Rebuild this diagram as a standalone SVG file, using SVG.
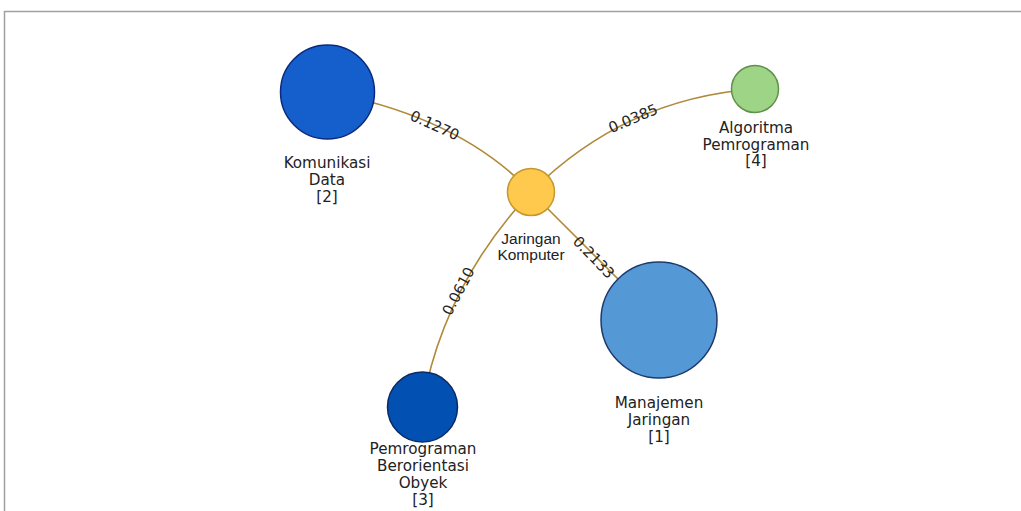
<svg xmlns="http://www.w3.org/2000/svg" width="1021" height="511" viewBox="0 0 1021 511">
<style>
.frame{fill:none;stroke:#a0a0a0;stroke-width:1.5}
.edge{fill:none;stroke:#b0893a;stroke-width:1.6}
.elab{font-family:"DejaVu Sans",Verdana,sans-serif;font-size:14.8px;fill:#222;text-anchor:middle;dominant-baseline:central}
.nlab{font-family:"DejaVu Sans",Verdana,sans-serif;font-size:15.2px;fill:#222;text-anchor:middle}
.slab{font-family:"Liberation Sans",Arial,sans-serif;font-size:15.5px;fill:#222;text-anchor:middle}
</style>
<rect width="1021" height="511" fill="#ffffff"/>
<path class="frame" d="M4.5,511 V11.5 H1021"/>
<g id="connectors">
<path class="edge" d="M327,92 Q460,117 531,192"/>
<path class="edge" d="M531,192 Q624.5,98.5 755,89"/>
<path class="edge" d="M531,192 Q443,286 422,407"/>
<path class="edge" d="M531,192 L659,320"/>
<text class="elab" transform="translate(435,125) rotate(24)">0.1270</text>
<text class="elab" transform="translate(633,118) rotate(-23)">0.0385</text>
<text class="elab" transform="translate(458,291) rotate(-62)">0.0610</text>
<text class="elab" transform="translate(594,257) rotate(46)">0.2133</text>
</g>
<g id="node-komunikasi">
<circle cx="327.5" cy="92" r="47" fill="#145fcc" stroke="#0b2a7c" stroke-width="1.5"/>
<text class="nlab" x="327" y="168">Komunikasi</text>
<text class="nlab" x="327" y="185">Data</text>
<text class="nlab" x="327" y="202">[2]</text>
</g>
<g id="node-jaringan-komputer">
<circle cx="531" cy="192" r="23.5" fill="#ffc94d" stroke="#c4982e" stroke-width="1.5"/>
<text class="slab" x="531" y="244">Jaringan</text>
<text class="slab" x="531" y="260">Komputer</text>
</g>
<g id="node-algoritma">
<circle cx="755" cy="89" r="23.5" fill="#9dd486" stroke="#5f9149" stroke-width="1.5"/>
<text class="nlab" x="756" y="133">Algoritma</text>
<text class="nlab" x="756" y="150">Pemrograman</text>
<text class="nlab" x="756" y="166">[4]</text>
</g>
<g id="node-manajemen">
<circle cx="659" cy="320" r="58" fill="#5498d5" stroke="#1d3a6e" stroke-width="1.5"/>
<text class="nlab" x="659" y="408">Manajemen</text>
<text class="nlab" x="659" y="425">Jaringan</text>
<text class="nlab" x="659" y="442">[1]</text>
</g>
<g id="node-pemrograman-obyek">
<circle cx="422.5" cy="407" r="35" fill="#0350b3" stroke="#0a2a66" stroke-width="1.5"/>
<text class="nlab" x="423" y="454">Pemrograman</text>
<text class="nlab" x="423" y="471">Berorientasi</text>
<text class="nlab" x="423" y="488">Obyek</text>
<text class="nlab" x="423" y="505">[3]</text>
</g>
</svg>
